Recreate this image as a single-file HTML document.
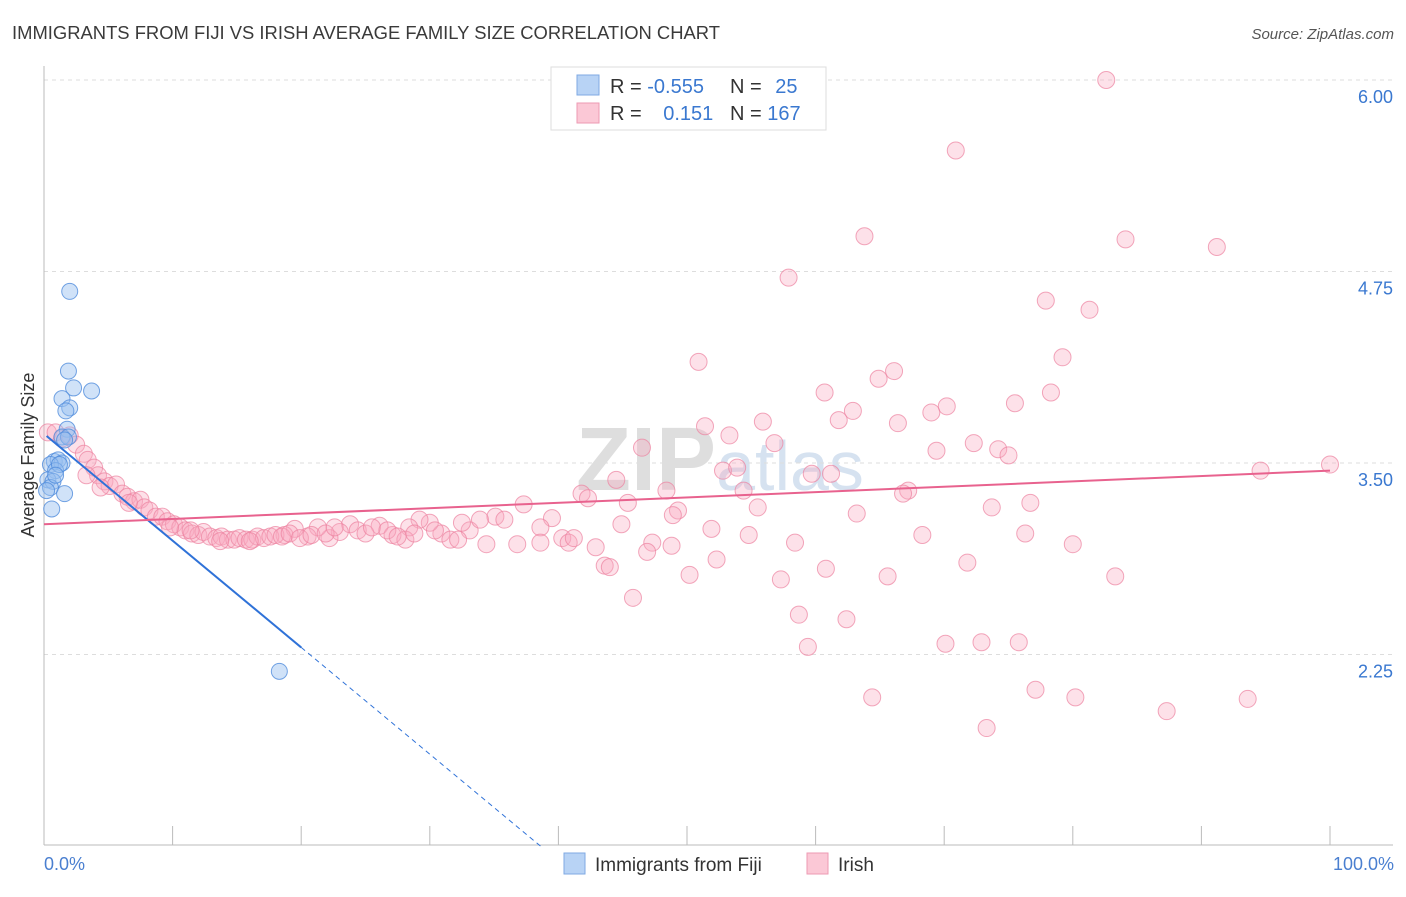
<!DOCTYPE html>
<html><head><meta charset="utf-8">
<style>
body{margin:0;background:#fff;font-family:"Liberation Sans",sans-serif;}
svg text{font-family:"Liberation Sans",sans-serif;}
</style></head>
<body>
<svg id="chart" width="1406" height="892" xmlns="http://www.w3.org/2000/svg">
<text x="12" y="39" font-size="18" fill="#3a3a3a" textLength="708" lengthAdjust="spacingAndGlyphs">IMMIGRANTS FROM FIJI VS IRISH AVERAGE FAMILY SIZE CORRELATION CHART</text>
<text x="1394" y="39" font-size="15" fill="#555" font-style="italic" text-anchor="end">Source: ZipAtlas.com</text>
<text x="720" y="490" font-size="90" fill="#e4e4e4" text-anchor="middle" font-family="Liberation Serif"><tspan font-weight="bold" fill="#dedede">ZIP</tspan><tspan font-family="Liberation Sans" fill="#d6e2f0" font-size="70">atlas</tspan></text>
<g id="grid"></g>
<g id="axes"></g>
<g id="pts"></g>
<g id="lines"></g>
<text transform="translate(34,455) rotate(-90)" font-size="18" fill="#333" text-anchor="middle">Average Family Size</text>
<text x="44" y="870" font-size="18" fill="#4a7fd0">0.0%</text>
<text x="1394" y="870" font-size="18" fill="#4a7fd0" text-anchor="end">100.0%</text>
<g>
<rect x="551" y="67" width="275" height="63" fill="#fff" stroke="#ddd"/>
<rect x="577" y="75" width="22" height="20" fill="#b8d3f5" stroke="#7fa9e3"/>
<rect x="577" y="103" width="22" height="20" fill="#fbc8d6" stroke="#ee9ab3"/>
<text x="610" y="93" font-size="20" fill="#333">R = <tspan fill="#3a78d0">-0.555</tspan></text>
<text x="730" y="93" font-size="20" fill="#333">N = <tspan fill="#3a78d0" dx="8">25</tspan></text>
<text x="610" y="120" font-size="20" fill="#333">R = <tspan fill="#3a78d0" dx="16">0.151</tspan></text>
<text x="730" y="120" font-size="20" fill="#333">N = <tspan fill="#3a78d0">167</tspan></text>
</g>
<g>
<rect x="564" y="853" width="21" height="21" fill="#b8d3f5" stroke="#7fa9e3"/>
<text x="595" y="871" font-size="19" fill="#333">Immigrants from Fiji</text>
<rect x="807" y="853" width="21" height="21" fill="#fbc8d6" stroke="#ee9ab3"/>
<text x="838" y="871" font-size="19" fill="#333">Irish</text>
</g>
</svg>
<script>
const yTicks=[6.00,4.75,3.50,2.25];
const yTickLabels=["6.00","4.75","3.50","2.25"];
const fijiX=[2.0,1.9,2.3,3.7,1.4,2.0,1.7,1.8,1.4,1.9,0.8,1.1,1.4,0.5,0.9,0.3,0.7,0.5,1.6,0.2,0.6,18.3,1.2,0.9,1.6];
const fijiY=[4.62,4.10,3.99,3.97,3.92,3.86,3.84,3.72,3.67,3.67,3.51,3.52,3.50,3.49,3.45,3.39,3.38,3.34,3.30,3.32,3.20,2.14,3.49,3.42,3.65];
const irishX=[82.6,70.9,63.8,84.1,91.2,57.9,77.9,81.3,50.9,79.2,66.1,64.9,60.7,78.3,62.9,70.2,69.0,75.5,51.4,55.9,61.8,66.4,53.3,46.5,56.8,72.3,69.4,74.2,75.0,52.8,53.9,59.7,61.2,94.6,100,44.5,48.4,54.4,41.8,42.3,45.4,67.2,66.8,55.5,76.7,73.7,49.3,48.9,63.2,51.9,54.8,76.3,68.3,58.4,47.3,48.8,42.9,80.0,46.9,52.3,43.6,44.0,71.8,60.8,50.2,65.6,57.3,83.3,45.8,58.7,62.4,59.4,70.1,72.9,75.8,77.1,64.4,80.2,93.6,87.3,73.3,44.9,39.5,38.6,37.3,35.1,35.8,33.1,33.9,32.5,30.9,31.6,34.4,36.8,38.6,40.3,40.8,41.2,32.2,30.0,29.2,28.4,26.1,27.1,28.1,23.8,23.0,22.2,21.3,20.5,19.5,18.7,
0.3,0.9,1.4,2.0,2.5,3.1,3.4,3.9,4.2,4.7,5.1,5.6,6.1,6.5,7.0,7.5,7.8,8.2,8.7,9.2,9.6,10.1,10.6,11.0,11.5,12.0,12.4,12.9,13.4,13.8,14.3,14.8,15.2,15.7,16.2,16.6,17.1,17.6,18.0,18.5,19.1,19.9,20.8,21.9,22.6,24.4,25.0,25.5,26.7,27.5,28.8,30.4,3.3,4.4,6.6,9.8,11.4,13.7,16.0];
const irishY=[6.00,5.54,4.98,4.96,4.91,4.71,4.56,4.50,4.16,4.19,4.10,4.05,3.96,3.96,3.84,3.87,3.83,3.89,3.74,3.77,3.78,3.76,3.68,3.60,3.63,3.63,3.58,3.59,3.55,3.45,3.47,3.43,3.43,3.45,3.49,3.39,3.32,3.32,3.30,3.27,3.24,3.32,3.30,3.21,3.24,3.21,3.19,3.16,3.17,3.07,3.03,3.04,3.03,2.98,2.98,2.96,2.95,2.97,2.92,2.87,2.83,2.82,2.85,2.81,2.77,2.76,2.74,2.76,2.62,2.51,2.48,2.30,2.32,2.33,2.33,2.02,1.97,1.97,1.96,1.88,1.77,3.10,3.14,3.08,3.23,3.15,3.13,3.06,3.13,3.11,3.04,3.00,2.97,2.97,2.98,3.01,2.98,3.01,3.00,3.11,3.13,3.08,3.09,3.03,3.00,3.10,3.05,3.01,3.08,3.02,3.07,3.03,
3.70,3.70,3.66,3.68,3.62,3.56,3.52,3.47,3.42,3.38,3.35,3.36,3.30,3.28,3.25,3.26,3.21,3.19,3.15,3.15,3.12,3.10,3.08,3.06,3.04,3.03,3.05,3.02,3.01,3.02,3.00,3.00,3.01,3.00,3.00,3.02,3.01,3.02,3.03,3.02,3.04,3.01,3.03,3.04,3.08,3.06,3.04,3.08,3.06,3.02,3.04,3.06,3.42,3.34,3.24,3.08,3.06,2.99,2.99];
const fijiTrend=[0,3.69,38.6,1.0,20];
const irishTrend=[0,3.10,100,3.45];
const NS="http://www.w3.org/2000/svg";
const sx=p=>44+p*12.86;
const sy=v=>80+(6-v)*153.2;
function mk(tag,attrs,parent){const e=document.createElementNS(NS,tag);for(const k in attrs)e.setAttribute(k,attrs[k]);parent.appendChild(e);return e;}
const grid=document.getElementById('grid'),axes=document.getElementById('axes'),pts=document.getElementById('pts'),lines=document.getElementById('lines');
yTicks.forEach((t,i)=>{
 const l=mk('line',{x1:44,x2:1393,y1:sy(t),y2:sy(t),stroke:'#ddd','stroke-dasharray':'4,4'},grid);
 
 
 const tx=mk('text',{x:1393,y:sy(t)+23,'font-size':18,fill:'#3a78d0','text-anchor':'end'},axes);
 tx.textContent=yTickLabels[i];
 
 
});
const ax=mk('line',{x1:44,x2:44,y1:66,y2:845,stroke:'#bbb'},axes);


const bx=mk('line',{x1:44,x2:1393,y1:845,y2:845,stroke:'#bbb'},axes);


for(let i=1;i<=10;i++){
 const tk=mk('line',{x1:sx(i*10),x2:sx(i*10),y1:826,y2:845,stroke:'#bbb'},axes);
 
 
}
irishX.forEach((x,i)=>{
 const c=mk('circle',{cx:sx(x),cy:sy(irishY[i]),r:8.5,fill:'rgba(248,170,192,0.35)',stroke:'rgba(236,130,160,0.7)','stroke-width':1},pts);
 
 
});
fijiX.forEach((x,i)=>{
 const c=mk('circle',{cx:sx(x),cy:sy(fijiY[i]),r:8,fill:'rgba(150,190,240,0.45)',stroke:'rgba(80,140,220,0.8)','stroke-width':1},pts);
 
 
});
const fs=(fijiTrend[3]-fijiTrend[1])/(fijiTrend[2]-fijiTrend[0]);
const fv=p=>fijiTrend[1]+fs*(p-fijiTrend[0]);
const f1=mk('line',{x1:sx(0.2),y1:sy(fv(0.2)),x2:sx(fijiTrend[4]),y2:sy(fv(fijiTrend[4])),stroke:'#2f72d8','stroke-width':2},lines);


const f2=mk('line',{x1:sx(fijiTrend[4]),y1:sy(fv(fijiTrend[4])),x2:sx(fijiTrend[2]),y2:sy(fijiTrend[3]),stroke:'#2f72d8','stroke-width':1,'stroke-dasharray':'5,4'},lines);


const p1=mk('line',{x1:sx(irishTrend[0]),y1:sy(irishTrend[1]),x2:sx(irishTrend[2]),y2:sy(irishTrend[3]),stroke:'#e8628e','stroke-width':2},lines);


</script>
</body></html>
